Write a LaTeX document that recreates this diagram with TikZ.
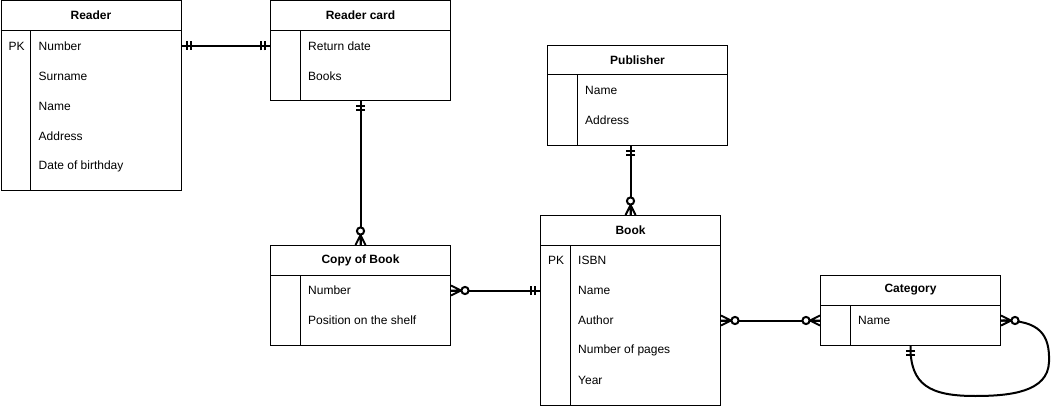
\documentclass[tikz,border=0pt]{standalone}
\usepackage{fontspec}
\setmainfont{Liberation Sans}
\usepackage{tikz}
\usetikzlibrary{calc}

\tikzset{
  entity/.style={draw, line width=1pt, minimum width=180pt, inner sep=0pt, anchor=north west},
  head/.style={font=\fontsize{12}{14}\selectfont\bfseries},
  attr/.style={anchor=west, inner sep=0pt},
  rel/.style={line width=2pt},
  one/.pic={\draw[rel] (5,-4.5) -- (5,4.5) (9,-4.5) -- (9,4.5);},
  many/.pic={\draw[rel, line join=round] (0,-5) -- (10,0) -- (0,5) (0,0) -- (10,0);
             \draw[rel, fill=white] (14,0) circle (3.6);},
}

% name, north west corner, height, title, attributes
\newcommand{\entitybox}[5]{
  \node[entity, minimum height=#3] (#1) at (#2) {};
  \node[head] at ([yshift=-15pt]#1.north) {#4};
  \draw[line width=1pt] ([yshift=-30pt]#1.north west) -- ([yshift=-30pt]#1.north east);
  \draw[line width=1pt] ([shift={(30pt,-30pt)}]#1.north west) -- ([xshift=30pt]#1.south west);
  \foreach \txt [count=\i] in {#5}
    \node[attr] (#1-\i) at ([shift={(38pt,{-15.5pt-30pt*\i})}]#1.north west) {\txt};
}

\begin{document}
\begin{tikzpicture}[x=1pt, y=-1pt, font=\fontsize{12}{14}\selectfont]
    \useasboundingbox (0,0) rectangle (1052,406);

    \entitybox{reader}{0.5,0.5}{190pt}{Reader}{Number, Surname, Name, Address, Date of birthday}
    \node[attr] at ([shift={(8pt,-45.5pt)}]reader.north west) {PK};
    \entitybox{card}{270,0.5}{100pt}{Reader card}{Return date, Books}
    \entitybox{publisher}{547,45}{100pt}{Publisher}{Name, Address}
    \entitybox{copy}{270,245}{100pt}{Copy of Book}{Number, Position on the shelf}
    \entitybox{book}{540,215}{190pt}{Book}{ISBN, Name, Author, Number of pages, Year}
    \node[attr] at ([shift={(8pt,-45.5pt)}]book.north west) {PK};
    \entitybox{cat}{820,275}{70pt}{Category}{Name}

    % relations
    \draw[rel] (reader.east |- reader-1.west) pic{one} -- (card.west |- reader-1.west) pic[rotate=180]{one};
    \draw[rel] (card.south) pic[rotate=-90]{one} -- (copy.north) pic[rotate=90]{many};
    \draw[rel] (book.north |- publisher.south) pic[rotate=-90]{one} -- (book.north) pic[rotate=90]{many};
    \draw[rel] (copy.east |- copy-1.west) pic{many} -- (book.west |- copy-1.west) pic[rotate=180]{one};
    \draw[rel] (book.east |- cat-1.west) pic{many} -- (cat.west |- cat-1.west) pic[rotate=180]{many};
    \draw[rel] (cat.east |- cat-1.west) pic{many}
        .. controls (1040,320) and (1050,335) .. (1049,362)
        .. controls (1048,392) and (1010,396) .. (975,396)
        .. controls (930,396) and (910,385) .. (cat.south) pic[rotate=-90]{one};
\end{tikzpicture}
\end{document}
